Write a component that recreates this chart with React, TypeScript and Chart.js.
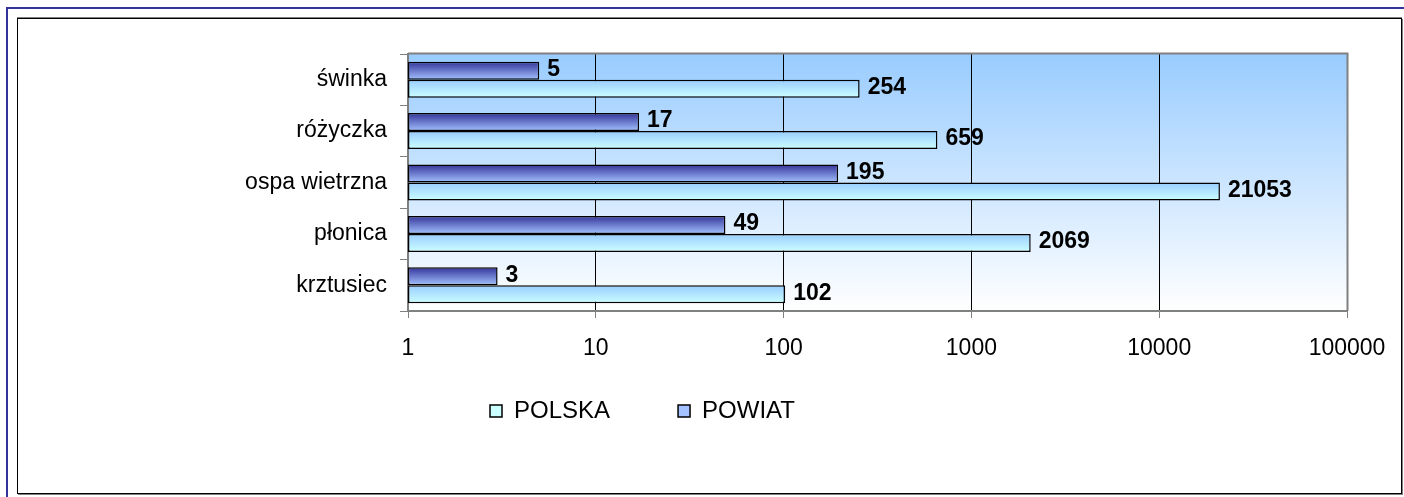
import React, { useEffect, useRef } from 'react';
import { Chart, registerables } from 'chart.js';

Chart.register(...registerables);

const categories = ['świnka', 'różyczka', 'ospa wietrzna', 'płonica', 'krztusiec'];
const powiatValues = [5, 17, 195, 49, 3];
const polskaValues = [254, 659, 21053, 2069, 102];
const xTickValues = [1, 10, 100, 1000, 10000, 100000];
const seriesNames = ['POWIAT', 'POLSKA'];

const FONT = '"Liberation Sans", Arial, Helvetica, sans-serif';
const CATEGORY_PCT = 0.7;
const LEGEND_LEFT = 490;
const LEGEND_CENTER_Y = 411;

function barGradient(top: string, bottom: string, fallback: string) {
  return (ctx: any) => {
    const chart = ctx.chart;
    if (ctx.type !== 'data' || !chart.chartArea || !chart.scales.y) return fallback;
    const y = chart.scales.y;
    const band = Math.abs(y.getPixelForValue(1) - y.getPixelForValue(0));
    const thickness = (band * CATEGORY_PCT) / 2;
    const center = y.getPixelForValue(ctx.dataIndex);
    const start = ctx.datasetIndex === 0 ? center - thickness : center;
    const g = chart.ctx.createLinearGradient(0, start, 0, start + thickness);
    g.addColorStop(0, top);
    g.addColorStop(1, bottom);
    return g;
  };
}

const plotAreaPlugin = {
  id: 'plotArea',
  beforeDraw(chart: any) {
    const { ctx, chartArea: a } = chart;
    if (!a) return;
    const g = ctx.createLinearGradient(0, a.top, 0, a.bottom);
    g.addColorStop(0, '#99ccff');
    g.addColorStop(1, '#ffffff');
    ctx.save();
    ctx.fillStyle = g;
    ctx.fillRect(a.left, a.top, a.right - a.left, a.bottom - a.top);
    ctx.restore();
  },
  beforeDatasetsDraw(chart: any) {
    const { ctx, chartArea: a } = chart;
    ctx.save();
    ctx.strokeStyle = '#808080';
    ctx.lineWidth = 2;
    ctx.beginPath();
    ctx.moveTo(a.left, a.top - 0.5);
    ctx.lineTo(a.right + 0.5, a.top - 0.5);
    ctx.lineTo(a.right + 0.5, a.bottom);
    ctx.stroke();
    ctx.restore();
  },
};

const valueLabelPlugin = {
  id: 'valueLabels',
  afterDatasetsDraw(chart: any) {
    const ctx = chart.ctx;
    ctx.save();
    ctx.font = `bold 23px ${FONT}`;
    ctx.fillStyle = '#000';
    ctx.textAlign = 'left';
    ctx.textBaseline = 'middle';
    chart.data.datasets.forEach((ds: any, i: number) => {
      const meta = chart.getDatasetMeta(i);
      meta.data.forEach((bar: any, j: number) => {
        ctx.fillText(String(ds.data[j]), bar.x + 8, bar.y - 1);
      });
    });
    ctx.restore();
  },
};

const legendPlacePlugin = {
  id: 'legendPlace',
  afterLayout(chart: any) {
    const lg = chart.legend;
    if (!lg) return;
    const labels = lg.options.labels;
    const p = labels.padding;
    const itemHeight = Math.max(labels.font.size, labels.boxHeight);
    const dx = LEGEND_LEFT - (lg.left + p);
    const dy = LEGEND_CENTER_Y - (lg.top + p + itemHeight / 2);
    lg.left += dx;
    lg.right += dx;
    lg.top += dy;
    lg.bottom += dy;
  },
};

export default function App() {
  const canvasRef = useRef<HTMLCanvasElement | null>(null);

  useEffect(() => {
    const canvas = canvasRef.current;
    if (!canvas) return;
    Chart.defaults.font.family = FONT;
    Chart.defaults.color = '#000';
    const chart = new Chart(canvas, {
      type: 'bar',
      data: {
        labels: categories,
        datasets: [
          {
            label: seriesNames[0],
            data: powiatValues,
            backgroundColor: barGradient('#333399', '#a4c2ff', '#5a6ccc'),
            borderColor: '#000',
            borderWidth: 1.5,
            borderSkipped: false,
            categoryPercentage: CATEGORY_PCT,
            barPercentage: 1,
          },
          {
            label: seriesNames[1],
            data: polskaValues,
            backgroundColor: barGradient('#99ccff', '#ccffff', '#b3e6ff'),
            borderColor: '#000',
            borderWidth: 1.5,
            borderSkipped: false,
            categoryPercentage: CATEGORY_PCT,
            barPercentage: 1,
          },
        ],
      },
      options: {
        indexAxis: 'y',
        responsive: false,
        animation: false,
        layout: { padding: { top: 54, right: 57, bottom: 24, left: 0 } },
        scales: {
          x: {
            type: 'logarithmic',
            position: 'bottom',
            min: 1,
            max: 100000,
            afterBuildTicks: (s: any) => {
              s.ticks = xTickValues.map((v) => ({ value: v }));
            },
            afterFit: (s: any) => {
              s.height = 60;
            },
            grid: { color: '#000', lineWidth: 1, tickLength: 7, tickColor: '#808080' },
            border: { color: '#808080', width: 2 },
            ticks: {
              font: { size: 23 },
              color: '#000',
              padding: 17,
              autoSkip: false,
              maxRotation: 0,
              callback: (v: any) => String(v),
            },
          },
          y: {
            type: 'category',
            position: 'left',
            afterFit: (s: any) => {
              s.width = 408;
            },
            grid: { drawOnChartArea: false, tickLength: 8, tickColor: '#808080', offset: true },
            border: { color: '#808080', width: 2 },
            ticks: { font: { size: 23 }, color: '#000', padding: 13, autoSkip: false },
          },
        },
        plugins: {
          legend: {
            position: 'bottom',
            align: 'start',
            reverse: true,
            labels: {
              font: { size: 24 },
              color: '#000',
              boxWidth: 12,
              boxHeight: 12,
              padding: 68,
            },
          },
          tooltip: { enabled: false },
          title: { display: false },
        },
      } as any,
      plugins: [plotAreaPlugin, valueLabelPlugin, legendPlacePlugin],
    });
    return () => chart.destroy();
  }, []);

  return (
    <div
      style={{
        position: 'fixed',
        left: 0,
        top: 0,
        width: 1404,
        height: 497,
        overflow: 'hidden',
        background: '#fff',
      }}
    >
      <div
        style={{
          position: 'absolute',
          left: 6,
          top: 7,
          width: 1500,
          height: 600,
          borderLeft: '2px solid #333399',
          borderTop: '2px solid #333399',
        }}
      />
      <div
        style={{
          position: 'absolute',
          left: 17,
          top: 18,
          width: 1385,
          height: 476,
          boxSizing: 'border-box',
          border: '1px solid #000',
          boxShadow: '0 -1px 0 #808080, 1px 1px 0 #808080',
        }}
      />
      <canvas
        ref={canvasRef}
        width={1404}
        height={497}
        style={{ position: 'absolute', left: 0, top: 0 }}
      />
    </div>
  );
}
